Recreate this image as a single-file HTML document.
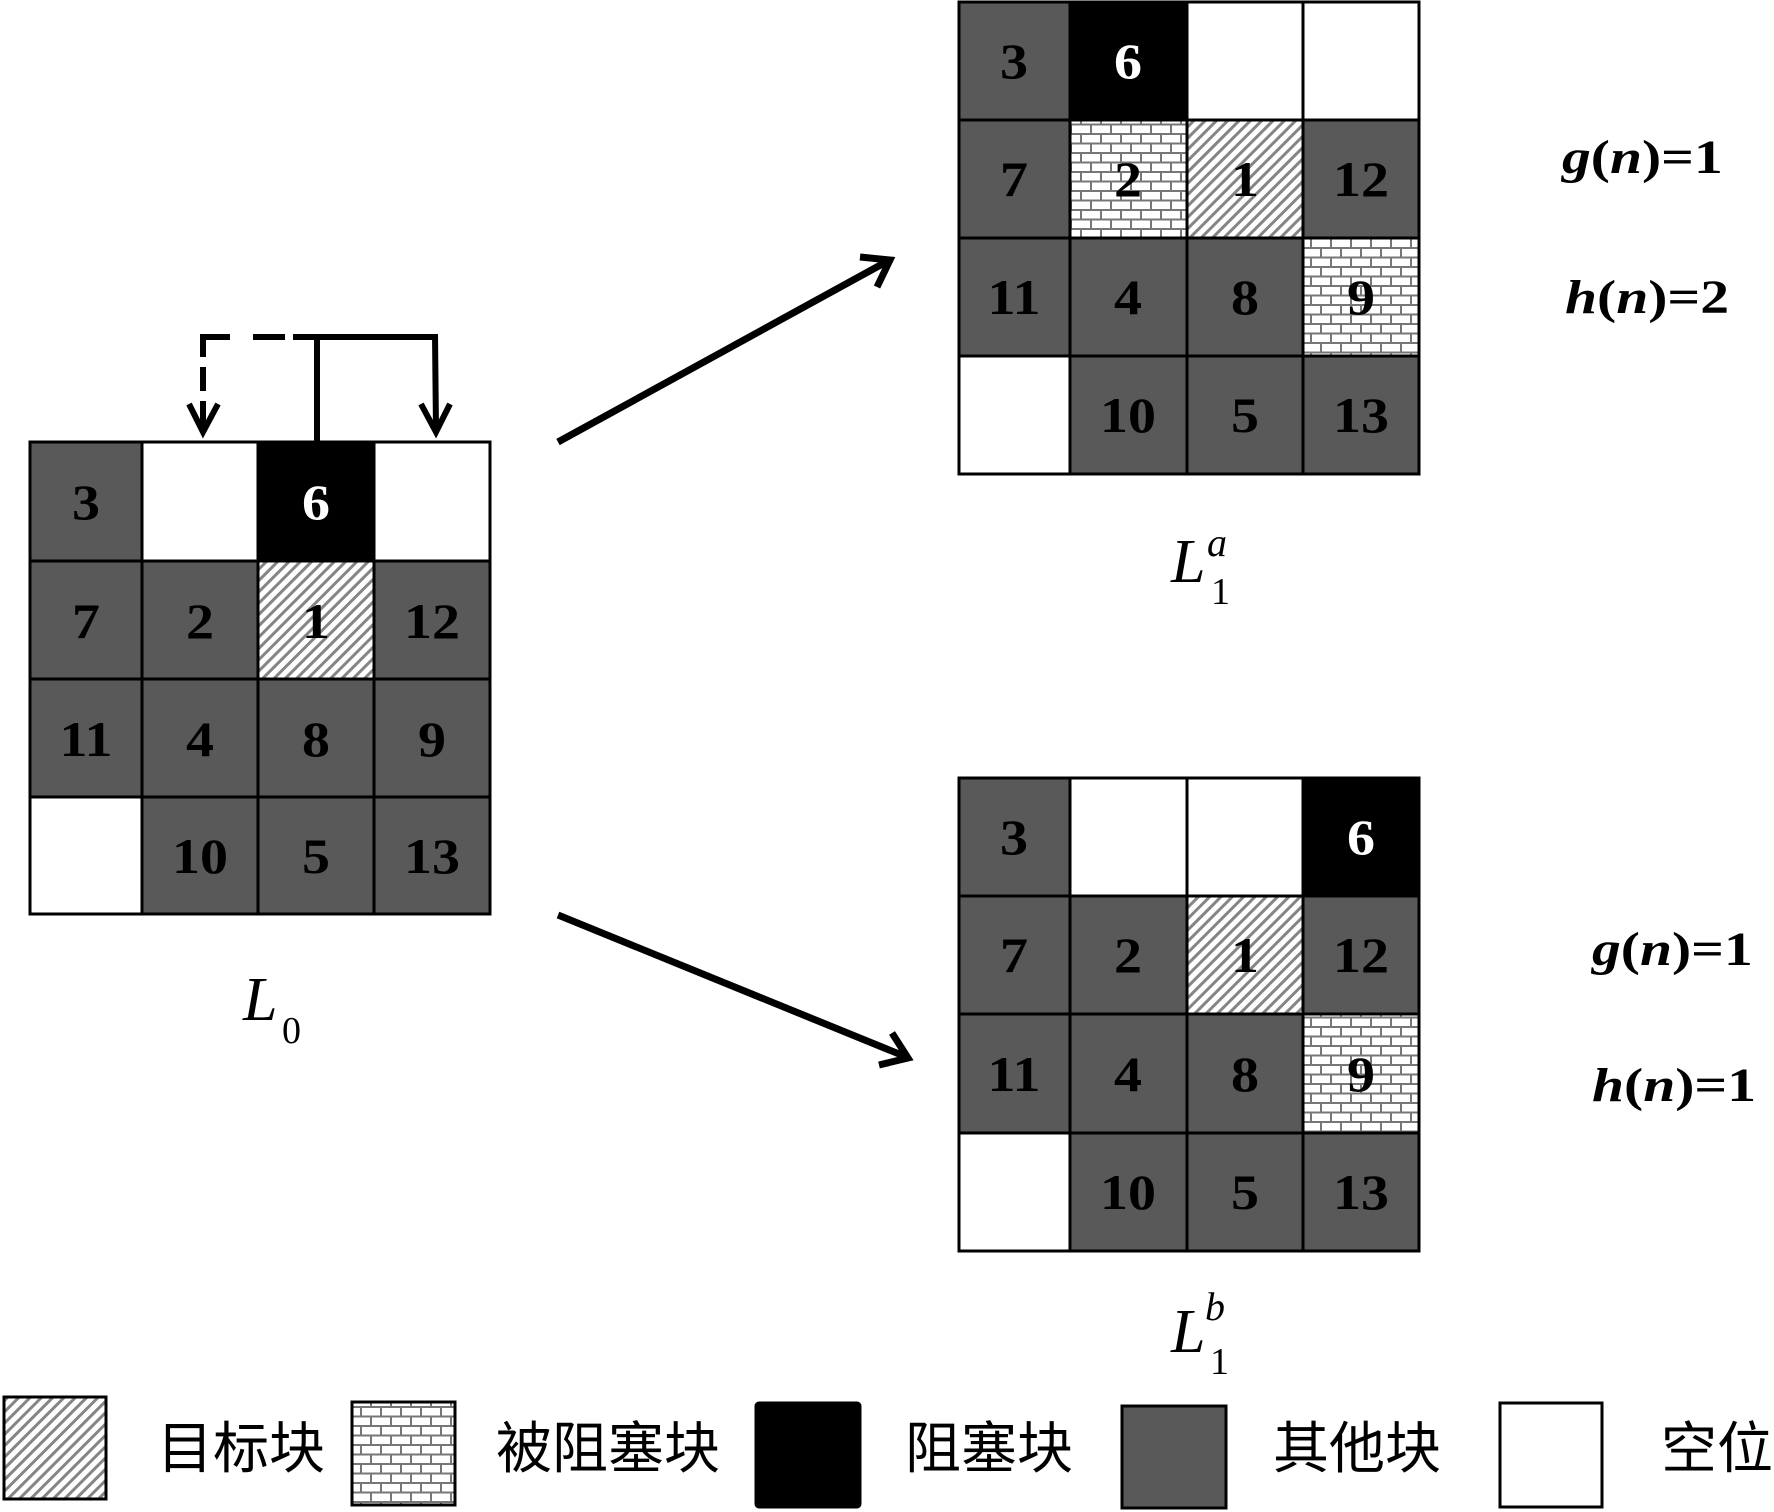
<!DOCTYPE html>
<html>
<head>
<meta charset="utf-8">
<style>
html,body{margin:0;padding:0;background:#fff;}
svg{display:block;}
.num{font-family:"Liberation Serif",serif;font-weight:bold;font-size:50px;text-anchor:middle;}
.cjk{font-family:"Liberation Sans","Noto Sans CJK SC",sans-serif;font-size:56px;}
.eq{font-family:"Liberation Serif",serif;font-weight:bold;font-size:48px;}
.lab{font-family:"Liberation Serif",serif;}
</style>
</head>
<body>
<svg width="1774" height="1512" viewBox="0 0 1774 1512" xmlns="http://www.w3.org/2000/svg">
<defs>
  <pattern id="hatch" patternUnits="userSpaceOnUse" width="8" height="8" patternTransform="rotate(45)">
    <rect width="8" height="8" fill="#fff"/>
    <rect x="0" y="0" width="3" height="8" fill="#858585"/>
  </pattern>
  <pattern id="brick" patternUnits="userSpaceOnUse" width="20" height="19">
    <rect width="20" height="19" fill="#fff"/>
    <rect x="0" y="0" width="20" height="2" fill="#777"/>
    <rect x="0" y="9.5" width="20" height="2" fill="#777"/>
    <rect x="0" y="0" width="2" height="9.5" fill="#777"/>
    <rect x="10" y="9.5" width="2" height="9.5" fill="#777"/>
  </pattern>
</defs>
<rect width="1774" height="1512" fill="#fff"/>

<!-- ========== L0 grid ========== -->
<g>
  <rect x="30" y="442" width="112" height="119" fill="#595959"/>
  <rect x="142" y="442" width="116" height="119" fill="#fff"/>
  <rect x="258" y="442" width="116" height="119" fill="#000"/>
  <rect x="374" y="442" width="116" height="119" fill="#fff"/>
  <rect x="30" y="561" width="112" height="118" fill="#595959"/>
  <rect x="142" y="561" width="116" height="118" fill="#595959"/>
  <rect x="258" y="561" width="116" height="118" fill="url(#hatch)"/>
  <rect x="374" y="561" width="116" height="118" fill="#595959"/>
  <rect x="30" y="679" width="460" height="118" fill="#595959"/>
  <rect x="30" y="797" width="112" height="117" fill="#fff"/>
  <rect x="142" y="797" width="348" height="117" fill="#595959"/>
  <g stroke="#000" stroke-width="3" stroke-linecap="square">
    <line x1="30" y1="442" x2="30" y2="914"/>
    <line x1="142" y1="442" x2="142" y2="914"/>
    <line x1="258" y1="442" x2="258" y2="914"/>
    <line x1="374" y1="442" x2="374" y2="914"/>
    <line x1="490" y1="442" x2="490" y2="914"/>
    <line x1="30" y1="442" x2="490" y2="442"/>
    <line x1="30" y1="561" x2="490" y2="561"/>
    <line x1="30" y1="679" x2="490" y2="679"/>
    <line x1="30" y1="797" x2="490" y2="797"/>
    <line x1="30" y1="914" x2="490" y2="914"/>
  </g>
  <g class="num">
    <text transform="translate(86,519) scale(1.12,1)">3</text>
    <text transform="translate(316,519) scale(1.12,1)" fill="#fff">6</text>
    <text transform="translate(86,638) scale(1.12,1)">7</text>
    <text transform="translate(200,638) scale(1.12,1)">2</text>
    <text transform="translate(316,638) scale(1.12,1)">1</text>
    <text transform="translate(432,638) scale(1.12,1)">12</text>
    <text transform="translate(86,756) scale(1.12,1)">11</text>
    <text transform="translate(200,756) scale(1.12,1)">4</text>
    <text transform="translate(316,756) scale(1.12,1)">8</text>
    <text transform="translate(432,756) scale(1.12,1)">9</text>
    <text transform="translate(200,873) scale(1.12,1)">10</text>
    <text transform="translate(316,873) scale(1.12,1)">5</text>
    <text transform="translate(432,873) scale(1.12,1)">13</text>
  </g>
</g>

<!-- bracket arrows above L0 -->
<g stroke="#000" stroke-width="6" fill="none">
  <line x1="317" y1="337" x2="317" y2="443"/>
  <line x1="293" y1="337" x2="438" y2="337"/>
  <line x1="435" y1="334" x2="436" y2="430"/>
  <polyline points="421,404 436,432 450,404" stroke-linejoin="miter"/>
  <line x1="200" y1="337" x2="230" y2="337"/>
  <line x1="253" y1="337" x2="285" y2="337"/>
  <line x1="203" y1="334" x2="203" y2="357"/>
  <line x1="203" y1="367" x2="203" y2="391"/>
  <line x1="203" y1="401" x2="203" y2="430"/>
  <polyline points="189,404 203,432 218,404" stroke-linejoin="miter"/>
</g>

<!-- main arrows -->
<g stroke="#000" stroke-width="7" fill="none" stroke-linejoin="miter">
  <line x1="558" y1="442" x2="886" y2="262"/>
  <polyline points="860,257 890,260 877,287"/>
  <line x1="558" y1="915" x2="904" y2="1056"/>
  <polyline points="892,1033 908,1058 879,1065"/>
</g>

<!-- ========== L1a grid ========== -->
<g>
  <rect x="959" y="2" width="111" height="118" fill="#595959"/>
  <rect x="1070" y="2" width="117" height="118" fill="#000"/>
  <rect x="1187" y="2" width="232" height="118" fill="#fff"/>
  <rect x="959" y="120" width="111" height="118" fill="#595959"/>
  <rect x="1070" y="120" width="117" height="118" fill="url(#brick)"/>
  <rect x="1187" y="120" width="116" height="118" fill="url(#hatch)"/>
  <rect x="1303" y="120" width="116" height="118" fill="#595959"/>
  <rect x="959" y="238" width="344" height="118" fill="#595959"/>
  <rect x="1303" y="238" width="116" height="118" fill="url(#brick)"/>
  <rect x="959" y="356" width="111" height="118" fill="#fff"/>
  <rect x="1070" y="356" width="349" height="118" fill="#595959"/>
  <g stroke="#000" stroke-width="3" stroke-linecap="square">
    <line x1="959" y1="2" x2="959" y2="474"/>
    <line x1="1070" y1="2" x2="1070" y2="474"/>
    <line x1="1187" y1="2" x2="1187" y2="474"/>
    <line x1="1303" y1="2" x2="1303" y2="474"/>
    <line x1="1419" y1="2" x2="1419" y2="474"/>
    <line x1="959" y1="2" x2="1419" y2="2"/>
    <line x1="959" y1="120" x2="1419" y2="120"/>
    <line x1="959" y1="238" x2="1419" y2="238"/>
    <line x1="959" y1="356" x2="1419" y2="356"/>
    <line x1="959" y1="474" x2="1419" y2="474"/>
  </g>
  <g class="num">
    <text transform="translate(1014,78) scale(1.12,1)">3</text>
    <text transform="translate(1128,78) scale(1.12,1)" fill="#fff">6</text>
    <text transform="translate(1014,196) scale(1.12,1)">7</text>
    <text transform="translate(1128,196) scale(1.12,1)">2</text>
    <text transform="translate(1245,196) scale(1.12,1)">1</text>
    <text transform="translate(1361,196) scale(1.12,1)">12</text>
    <text transform="translate(1014,314) scale(1.12,1)">11</text>
    <text transform="translate(1128,314) scale(1.12,1)">4</text>
    <text transform="translate(1245,314) scale(1.12,1)">8</text>
    <text transform="translate(1361,314) scale(1.12,1)">9</text>
    <text transform="translate(1128,432) scale(1.12,1)">10</text>
    <text transform="translate(1245,432) scale(1.12,1)">5</text>
    <text transform="translate(1361,432) scale(1.12,1)">13</text>
  </g>
</g>

<!-- ========== L1b grid ========== -->
<g>
  <rect x="959" y="778" width="111" height="118" fill="#595959"/>
  <rect x="1070" y="778" width="233" height="118" fill="#fff"/>
  <rect x="1303" y="778" width="116" height="118" fill="#000"/>
  <rect x="959" y="896" width="111" height="118" fill="#595959"/>
  <rect x="1070" y="896" width="117" height="118" fill="#595959"/>
  <rect x="1187" y="896" width="116" height="118" fill="url(#hatch)"/>
  <rect x="1303" y="896" width="116" height="118" fill="#595959"/>
  <rect x="959" y="1014" width="344" height="119" fill="#595959"/>
  <rect x="1303" y="1014" width="116" height="119" fill="url(#brick)"/>
  <rect x="959" y="1133" width="111" height="118" fill="#fff"/>
  <rect x="1070" y="1133" width="349" height="118" fill="#595959"/>
  <g stroke="#000" stroke-width="3" stroke-linecap="square">
    <line x1="959" y1="778" x2="959" y2="1251"/>
    <line x1="1070" y1="778" x2="1070" y2="1251"/>
    <line x1="1187" y1="778" x2="1187" y2="1251"/>
    <line x1="1303" y1="778" x2="1303" y2="1251"/>
    <line x1="1419" y1="778" x2="1419" y2="1251"/>
    <line x1="959" y1="778" x2="1419" y2="778"/>
    <line x1="959" y1="896" x2="1419" y2="896"/>
    <line x1="959" y1="1014" x2="1419" y2="1014"/>
    <line x1="959" y1="1133" x2="1419" y2="1133"/>
    <line x1="959" y1="1251" x2="1419" y2="1251"/>
  </g>
  <g class="num">
    <text transform="translate(1014,854) scale(1.12,1)">3</text>
    <text transform="translate(1361,854) scale(1.12,1)" fill="#fff">6</text>
    <text transform="translate(1014,972) scale(1.12,1)">7</text>
    <text transform="translate(1128,972) scale(1.12,1)">2</text>
    <text transform="translate(1245,972) scale(1.12,1)">1</text>
    <text transform="translate(1361,972) scale(1.12,1)">12</text>
    <text transform="translate(1014,1091) scale(1.12,1)">11</text>
    <text transform="translate(1128,1091) scale(1.12,1)">4</text>
    <text transform="translate(1245,1091) scale(1.12,1)">8</text>
    <text transform="translate(1361,1091) scale(1.12,1)">9</text>
    <text transform="translate(1128,1209) scale(1.12,1)">10</text>
    <text transform="translate(1245,1209) scale(1.12,1)">5</text>
    <text transform="translate(1361,1209) scale(1.12,1)">13</text>
  </g>
</g>

<!-- L labels -->
<g class="lab">
  <text x="243" y="1020" font-size="62" font-style="italic">L</text>
  <text x="282" y="1043" font-size="38">0</text>

  <text x="1171" y="582" font-size="62" font-style="italic">L</text>
  <text x="1207" y="556" font-size="40" font-style="italic">a</text>
  <text x="1211" y="604" font-size="38">1</text>

  <text x="1171" y="1352" font-size="62" font-style="italic">L</text>
  <text x="1205" y="1320" font-size="40" font-style="italic">b</text>
  <text x="1210" y="1374" font-size="38">1</text>
</g>

<!-- g(n), h(n) -->
<g class="eq">
  <text transform="translate(1562,173) scale(1.2,1)"><tspan font-style="italic">g</tspan>(<tspan font-style="italic">n</tspan>)=1</text>
  <text transform="translate(1565,313) scale(1.2,1)"><tspan font-style="italic">h</tspan>(<tspan font-style="italic">n</tspan>)=2</text>
  <text transform="translate(1592,965) scale(1.2,1)"><tspan font-style="italic">g</tspan>(<tspan font-style="italic">n</tspan>)=1</text>
  <text transform="translate(1592,1101) scale(1.2,1)"><tspan font-style="italic">h</tspan>(<tspan font-style="italic">n</tspan>)=1</text>
</g>

<!-- legend -->
<g stroke="#000" stroke-width="3">
  <rect x="4" y="1397" width="102" height="102" fill="url(#hatch)"/>
  <rect x="352" y="1402" width="103" height="103" fill="url(#brick)"/>
  <rect x="756" y="1403" width="104" height="104" rx="3" fill="#000"/>
  <rect x="1122" y="1406" width="104" height="102" fill="#595959"/>
  <rect x="1500" y="1403" width="102" height="104" fill="#fff"/>
</g>
<g class="cjk">
  <text x="157" y="1468">目标块</text>
  <text x="496" y="1468">被阻塞块</text>
  <text x="905" y="1468">阻塞块</text>
  <text x="1273" y="1468">其他块</text>
  <text x="1661" y="1468">空位</text>
</g>
</svg>
</body>
</html>
